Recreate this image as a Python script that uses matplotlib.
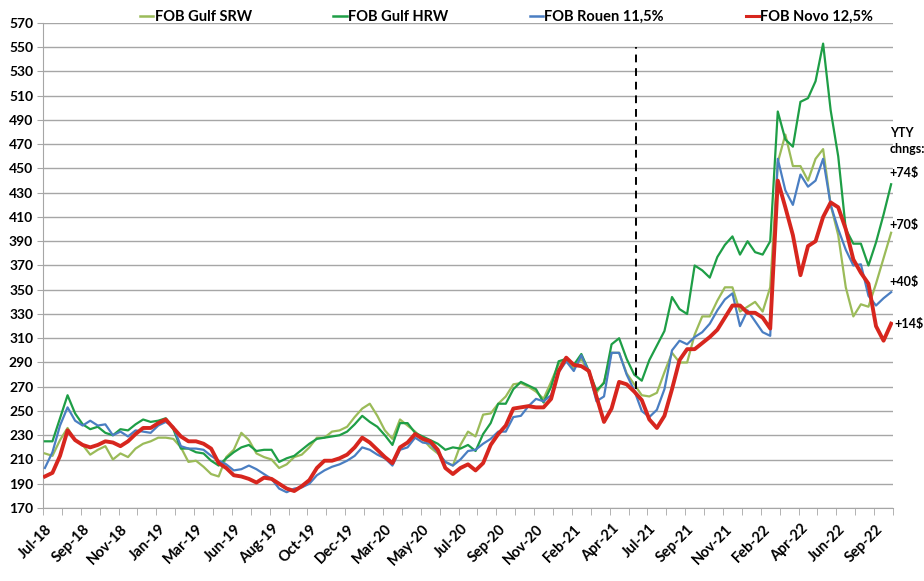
"""FOB wheat prices: Gulf SRW / HRW, Rouen, Novorossiysk (weekly, Jul-18 .. Oct-22)."""

import matplotlib

matplotlib.use("Agg")

import matplotlib.pyplot as plt
import numpy as np
from matplotlib.lines import Line2D

plt.rcParams["font.family"] = ["Lato", "DejaVu Sans"]
plt.rcParams["font.weight"] = "bold"

# values every second week, starting Jul-18
gulf_srw = [
    215, 213, 226, 236, 226, 222, 214, 218, 221, 210, 215, 212, 219, 223, 225, 228, 228, 227, 220, 208,
    209, 204, 198, 196, 212, 218, 232, 226, 215, 212, 210, 203, 206, 212, 214, 220, 228, 228, 233, 234,
    237, 245, 252, 256, 246, 234, 227, 243, 238, 233, 227, 220, 215, 208, 205, 222, 233, 229, 247, 248,
    256, 262, 272, 273, 270, 266, 260, 274, 289, 292, 285, 293, 281, 265, 274, 298, 298, 281, 272, 263,
    262, 265, 282, 298, 290, 290, 313, 328, 328, 341, 352, 352, 332, 336, 340, 332, 352, 455, 478, 452,
    452, 440, 458, 466, 420, 395, 352, 328, 338, 336, 355, 376, 397,
]
gulf_hrw = [
    225, 225, 244, 263, 248, 239, 235, 237, 232, 230, 235, 234, 239, 243, 241, 242, 244, 235, 219, 219,
    216, 215, 209, 205, 211, 216, 220, 222, 217, 218, 218, 208, 211, 213, 218, 223, 227, 228, 229, 230,
    233, 239, 246, 241, 237, 230, 222, 240, 240, 232, 229, 226, 223, 218, 220, 219, 222, 217, 231, 240,
    256, 256, 268, 274, 271, 268, 257, 270, 291, 293, 288, 297, 283, 267, 273, 305, 310, 293, 280, 275,
    292, 304, 316, 344, 334, 330, 370, 366, 360, 377, 387, 394, 379, 390, 381, 379, 390, 497, 474, 468,
    505, 508, 522, 553, 498, 460, 400, 388, 388, 370, 389, 412, 437,
]
rouen = [
    203, 216, 238, 253, 242, 238, 242, 238, 239, 230, 233, 229, 234, 233, 232, 238, 241, 237, 221, 219,
    219, 218, 213, 209, 206, 201, 202, 205, 202, 198, 194, 186, 183, 186, 187, 190, 197, 201, 204, 206,
    209, 213, 220, 218, 214, 211, 205, 218, 220, 228, 224, 223, 216, 208, 205, 210, 217, 218, 223, 227,
    233, 233, 245, 246, 254, 260, 258, 263, 282, 291, 283, 296, 282, 258, 262, 298, 298, 280, 267, 250,
    245, 251, 268, 300, 308, 305, 311, 315, 322, 333, 342, 347, 320, 333, 324, 315, 312, 458, 432, 420,
    445, 435, 440, 458, 420, 400, 383, 370, 371, 345, 337, 343, 348,
]
novo = [
    196, 199, 213, 234, 226, 222, 220, 222, 225, 224, 221, 225, 231, 236, 236, 240, 243, 236, 229, 225,
    225, 223, 219, 207, 203, 197, 196, 194, 191, 195, 194, 190, 186, 184, 188, 193, 203, 209, 209, 211,
    214, 220, 228, 224, 218, 212, 207, 220, 224, 231, 227, 225, 218, 203, 198, 203, 206, 201, 207, 222,
    231, 238, 252, 253, 254, 253, 253, 260, 283, 294, 288, 287, 283, 262, 241, 252, 274, 272, 266, 259,
    243, 236, 246, 268, 292, 301, 301, 306, 311, 317, 327, 337, 337, 331, 331, 327, 318, 440, 418, 395,
    362, 386, 390, 410, 422, 418, 400, 375, 364, 355, 320, 308, 322,
]

tick_labels = [
    "Jul-18", "Sep-18", "Nov-18", "Jan-19", "Mar-19", "Jun-19", "Aug-19", "Oct-19",
    "Dec-19", "Mar-20", "May-20", "Jul-20", "Sep-20", "Nov-20", "Feb-21", "Apr-21",
    "Jul-21", "Sep-21", "Nov-21", "Feb-22", "Apr-22", "Jun-22", "Sep-22",
]

yty_labels = ["+74$", "+70$", "+40$", "+14$"]
yty_values = [446, 403, 356, 322]

series = [
    ("FOB Gulf SRW", gulf_srw, "#9BBB59", 1.6),
    ("FOB Gulf HRW", gulf_hrw, "#1E9E46", 1.6),
    ("FOB Rouen 11,5%", rouen, "#4A7EC2", 1.6),
    ("FOB Novo 12,5%", novo, "#D7261E", 2.8),
]

GRID = "#A6A6A6"

fig = plt.figure(figsize=(9.24, 5.81), dpi=100)
ax = fig.add_axes([43 / 924, 73 / 581, 850 / 924, 485 / 581])

x = np.arange(len(novo)) * 2
handles = []
for name, vals, color, lw in series:
    ax.plot(x, vals, color=color, lw=lw, solid_joinstyle="round", zorder=3)
    handles.append(Line2D([], [], color=color, lw=2.2 if lw > 2 else 1.8, label=name))

# marker for "one year ago"
ax.vlines(156.6, 268, 550, colors="black", linestyles=(0, (4, 3)), lw=1.4, zorder=4)

ax.set_xlim(-0.5, 224.5)
ax.set_ylim(170, 570)
ax.set_yticks(np.arange(170, 571, 20))
ax.grid(axis="y", color=GRID, lw=1)
ax.set_axisbelow(True)

ax.set_xticks(np.arange(0, 221, 10))
ax.set_xticklabels(tick_labels, rotation=45, ha="right", rotation_mode="anchor")
ax.set_xticks(np.arange(-0.5, 225, 5), minor=True)
ax.tick_params(axis="x", which="major", length=0, pad=10, labelsize=10.5)
ax.tick_params(axis="x", which="minor", length=5, color=GRID, direction="out")
ax.tick_params(axis="y", length=4, color=GRID, labelsize=10, pad=3)

for side in ("top", "right"):
    ax.spines[side].set_visible(False)
for side in ("left", "bottom"):
    ax.spines[side].set_color(GRID)

ax.text(223.6, 479, "YTY", fontsize=9, va="center", ha="left", clip_on=False)
ax.text(223.6, 466, "chngs:", fontsize=9, va="center", ha="left", clip_on=False)
for i, (lab, val) in enumerate(zip(yty_labels, yty_values)):
    xoff = 224.8 if i == 3 else 223.6
    ax.text(xoff, val, lab, fontsize=9, va="center", ha="left", clip_on=False)

fig.legend(
    handles=handles,
    loc="center left",
    bbox_to_anchor=(140 / 924, 1 - 17 / 581),
    ncol=4,
    frameon=False,
    fontsize=10.5,
    handlelength=0.9,
    handletextpad=0.1,
    columnspacing=5.6,
    borderpad=0,
    borderaxespad=0,
)

fig.savefig("out.png", dpi=100)
